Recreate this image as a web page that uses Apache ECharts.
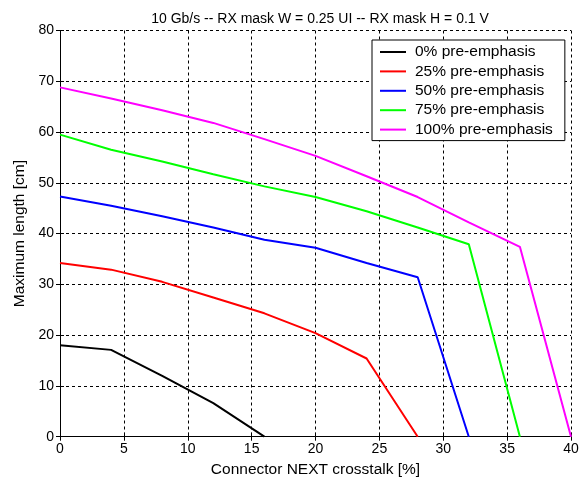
<!DOCTYPE html>
<html>
<head>
<meta charset="utf-8">
<script src="https://cdn.jsdelivr.net/npm/echarts@6/dist/echarts.min.js"></script>
<style>
  html, body { margin: 0; padding: 0; background: #fff; }
  #chart { width: 583px; height: 482px; }
</style>
</head>
<body>
<div id="chart"></div>
<script>
// Connector NEXT crosstalk [%] sample points
const crosstalk = [0, 4, 8, 12, 16, 20, 24, 28, 32, 36, 40];

// Maximum length [cm] for each pre-emphasis level
const len0 = [18.0, 17.1, 12.0, 6.6, 0];
const len25 = [34.2, 32.9, 30.5, 27.4, 24.3, 20.4, 15.4, 0];
const len50 = [47.3, 45.5, 43.4, 41.2, 38.8, 37.2, 34.2, 31.4, 0];
const len75 = [59.5, 56.5, 54.2, 51.7, 49.3, 47.2, 44.4, 41.2, 37.9, 0];
const len100 = [68.8, 66.6, 64.3, 61.8, 58.6, 55.3, 51.3, 47.2, 42.2, 37.4, 0];

const seriesNames = ['0% pre-emphasis', '25% pre-emphasis', '50% pre-emphasis', '75% pre-emphasis', '100% pre-emphasis'];
const seriesValues = [len0, len25, len50, len75, len100];
const seriesColors = ['#000000', '#ff0000', '#0000ff', '#00ff00', '#ff00ff'];

const titleText = '10 Gb/s -- RX mask W = 0.25 UI -- RX mask H = 0.1 V';
const xName = 'Connector NEXT crosstalk [%]';
const yName = 'Maximum length [cm]';

const FONT = 'Liberation Sans, Arial, sans-serif';
const gridLine = { show: true, lineStyle: { color: '#000', type: [3, 3], width: 1 } };

const chart = echarts.init(document.getElementById('chart'), null, { renderer: 'canvas' });

chart.setOption({
  animation: false,
  backgroundColor: '#fff',
  title: {
    text: titleText,
    left: 315, top: 7, textAlign: 'center',
    textStyle: { fontFamily: FONT, fontSize: 14, fontWeight: 'normal', color: '#000' }
  },
  grid: { left: 60, right: 12, top: 30.5, bottom: 45.3, containLabel: false, outerBoundsMode: 'none' },
  legend: {
    orient: 'vertical',
    left: 372, top: 40,
    padding: [4, 12, 3, 8],
    itemGap: 3.4,
    itemWidth: 26, itemHeight: 2,
    icon: 'rect',
    backgroundColor: '#fff',
    borderColor: '#000', borderWidth: 1, borderRadius: 0,
    textStyle: { fontFamily: FONT, fontSize: 15.5, color: '#000', lineHeight: 16, padding: [0, 0, 0, 4] },
    data: seriesNames
  },
  xAxis: [{
    type: 'value', min: 0, max: 40, interval: 5,
    name: xName, nameLocation: 'middle', nameGap: 25,
    nameTextStyle: { fontFamily: FONT, fontSize: 15.5, color: '#000' },
    axisLine: { show: true, onZero: false, lineStyle: { color: '#000', width: 1 } },
    axisTick: { show: true, inside: true, length: 4, lineStyle: { color: '#000' } },
    axisLabel: { fontFamily: FONT, fontSize: 14, color: '#000', margin: 5 },
    splitLine: gridLine
  }, {
    type: 'value', min: 0, max: 40, interval: 5, position: 'top',
    axisLine: { show: false },
    axisTick: { show: true, inside: true, length: 4, lineStyle: { color: '#000' } },
    axisLabel: { show: false },
    splitLine: { show: false }
  }],
  yAxis: [{
    type: 'value', min: 0, max: 80, interval: 10,
    name: yName, nameLocation: 'middle', nameGap: 25.5, nameRotate: 90,
    nameTextStyle: { fontFamily: FONT, fontSize: 15.5, color: '#000' },
    axisLine: { show: true, onZero: false, lineStyle: { color: '#000', width: 1 } },
    axisTick: { show: true, inside: true, length: 4, lineStyle: { color: '#000' } },
    axisLabel: { fontFamily: FONT, fontSize: 14, color: '#000', margin: 6 },
    splitLine: gridLine
  }, {
    type: 'value', min: 0, max: 80, interval: 10, position: 'right',
    axisLine: { show: false },
    axisTick: { show: true, inside: true, length: 4, lineStyle: { color: '#000' } },
    axisLabel: { show: false },
    splitLine: { show: false }
  }],
  series: seriesNames.map((name, i) => ({
    name: name,
    type: 'line',
    xAxisIndex: 0, yAxisIndex: 0,
    showSymbol: false, symbol: 'none',
    color: seriesColors[i],
    lineStyle: { color: seriesColors[i], width: 2 },
    data: seriesValues[i].map((v, k) => [crosstalk[k], v]),
    z: 3
  }))
});
</script>
</body>
</html>
